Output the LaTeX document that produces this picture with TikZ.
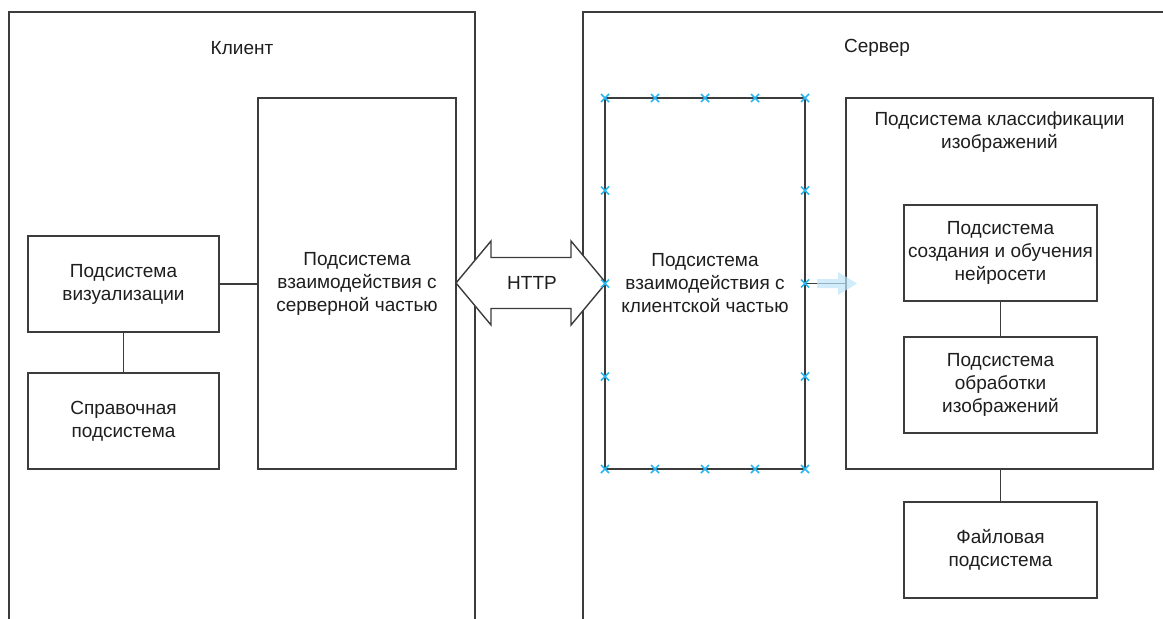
\documentclass[tikz,border=0pt]{standalone}
\usepackage{fontspec}
\setmainfont{Liberation Sans}
\definecolor{linec}{RGB}{60,60,60}
\definecolor{txtc}{RGB}{30,30,30}
\definecolor{selc}{RGB}{41,182,242}
\definecolor{hintc}{RGB}{190,228,250}
\begin{document}
\begin{tikzpicture}[x=1pt,y=-1pt,
  every node/.style={font=\fontsize{19}{23}\selectfont, text=txtc},
  box/.style={draw=linec, line width=1.4pt, fill=white, inner sep=0pt, align=center},
  conn/.style={draw=linec, line width=1.4pt},
  lbl/.style={inner sep=0pt, align=center},
  selmark/.style={draw=selc, line width=1.6pt}
]
\useasboundingbox (0,0) rectangle (1163,619);
\clip (0,0) rectangle (1163,619);
% containers (open at the bottom of the picture)
\draw[conn] (9,640) -- (9,12) -- (475,12) -- (475,640);
\draw[conn] (583,640) -- (583,12) -- (1180,12);
\node[lbl] (client) at (242,48) {Клиент};
\node[lbl] (server) at (877,48) {Сервер};
% client side
\node[box, minimum width=191pt, minimum height=96pt] (vis) at (123.5,284) {Подсистема\\визуализации};
\node[box, minimum width=191pt, minimum height=96pt] (spr) at (123.5,421) {Справочная\\подсистема};
\node[box, minimum width=198pt, minimum height=371pt] (cint) at (357,283.5) {Подсистема\\взаимодействия с\\серверной частью};
\draw[conn] (vis.east) -- (vis.east -| cint.west);
\draw[conn] (vis.south) -- (spr.north);
% HTTP double arrow
\draw[draw=linec, line width=1.4pt, fill=white, line join=miter]
  (456,283) -- (491,241) -- (491,257.5) -- (571,257.5) -- (571,241) -- (606,283)
  -- (571,325) -- (571,308.5) -- (491,308.5) -- (491,325) -- cycle;
\node[lbl] (http) at (532,283) {HTTP};
% server side
\node[box, minimum width=200pt, minimum height=371pt] (sint) at (705,283.5) {Подсистема\\взаимодействия с\\клиентской частью};
\node[box, minimum width=307pt, minimum height=371pt] (cls) at (999.5,283.5) {};
\node[lbl] (clst) at (999.5,132.5) {Подсистема классификации\\изображений};
\node[box, minimum width=193pt, minimum height=96pt] (nn) at (1000.5,253) {Подсистема\\создания и обучения\\нейросети};
\node[box, minimum width=193pt, minimum height=96pt] (img) at (1000.5,385) {Подсистема\\обработки\\изображений};
\node[box, minimum width=193pt, minimum height=96pt] (fs) at (1000.5,550) {Файловая\\подсистема};
\draw[conn] (nn.south) -- (img.north);
\draw[conn] (cls.south -| fs.north) -- (fs.north);
\draw[conn] (sint.east) -- (sint.east -| cls.west);
% faint hover arrow
\fill[hintc, opacity=0.7] (817,279) -- (838,279) -- (838,272) -- (857,283.5) -- (838,295) -- (838,288) -- (817,288) -- cycle;
% selection markers
\foreach \x in {605,655,705,755,805} {
  \foreach \y in {98,469} {
    \draw[selmark] (\x-4,\y-4) -- (\x+4,\y+4) (\x-4,\y+4) -- (\x+4,\y-4);
  }
}
\foreach \x in {605,805} {
  \foreach \y in {190.5,283.5,376.5} {
    \draw[selmark] (\x-4,\y-4) -- (\x+4,\y+4) (\x-4,\y+4) -- (\x+4,\y-4);
  }
}
\end{tikzpicture}
\end{document}
